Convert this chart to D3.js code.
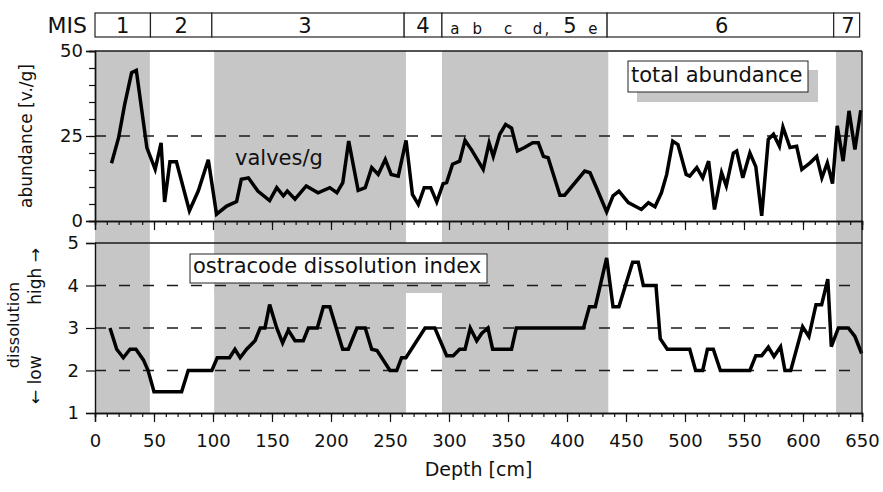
<!DOCTYPE html>
<html>
<head>
<meta charset="utf-8">
<script src="https://cdn.jsdelivr.net/npm/d3@7"></script>
<style>
  body { margin: 0; background: #fff; }
  svg text { font-family: "DejaVu Sans", sans-serif; fill: #111; }
</style>
</head>
<body>
<div id="chart"></div>
<script>
// depth [cm], abundance [valves/g]
var abundance = [
  [14,17],[20,24.5],[25,34],[31,43.6],[35,44.3],[44,21.5],[51,15.2],[56,23],[59,5.6],[63.5,17.4],
  [69,17.4],[80,3],[87.5,8.8],[96,18],[103,2],[111.6,4.4],[120,5.7],[124,12.3],[130,12.7],[138,8.8],
  [148,6],[154,9.8],[159.6,7.4],[163,8.8],[169.5,6.4],[179,10.3],[189,8.3],[199,9.8],[205,8.3],[210,11.3],
  [215,23.5],[223,9],[229,9.8],[234.5,15.7],[240,13.7],[246,18.1],[251,13.7],[257,13.2],[263.6,23.7],[269,7.8],
  [274,4.9],[279,9.8],[284.5,9.8],[289.6,5.6],[295,11],[298,11.3],[303,16.7],[309,17.6],[313.6,23.7],[319,21],
  [329,15.2],[334,23],[337.5,19],[343,25.5],[348,28.4],[353,27.3],[358,20.6],[364,21.6],[371,23],[375.7,23],
  [380,19],[384,18.6],[394,7.6],[398,7.6],[415,14.7],[419.5,14.2],[425,9.8],[433.6,2.7],[439,7.4],[444,8.8],
  [452,5.4],[463,3.4],[469,5.4],[474.6,4.2],[480,8.3],[484.5,13.7],[489.6,23.5],[494,22.5],[501,13.7],[504,13.2],
  [510,15.7],[515,12.7],[520,17.6],[525,3.4],[531,14.2],[535,10.3],[541,20],[543.8,20.6],[549,12.7],[555,20],
  [560,16],[565,1.5],[570.6,24],[575,25.5],[580,22],[583,27.6],[589,21.6],[594.6,22],[599,15.2],[606,17.1],
  [611.6,19],[616,12.7],[620.6,17.1],[625,11],[629,28],[634,17.6],[639,32.4],[644,21],[649,32.6]
]

// depth [cm], ostracode dissolution index
var dissolution = [
  [12.7,3.0],[18.4,2.5],[24,2.3],[29.7,2.5],[34.7,2.5],[41,2.25],[45,2.0],[50,1.5],[73.4,1.5],[79,2.0],
  [99,2.0],[103.6,2.3],[114,2.3],[118.6,2.5],[123,2.3],[128.5,2.5],[135.6,2.7],[140,3.0],[144,3.0],[148,3.55],
  [154,3.0],[159,2.65],[163.8,2.95],[169.5,2.7],[176.5,2.7],[180.8,3.0],[188.4,3.0],[193.5,3.5],[199,3.5],[209.9,2.5],
  [214.7,2.5],[222,3.0],[229,3.0],[234.5,2.5],[239,2.47],[250,2.0],[255.7,2.0],[259.8,2.3],[263.5,2.3],[279.7,3.0],
  [288,3.0],[298,2.35],[303.6,2.35],[309,2.5],[313.6,2.5],[318,3.0],[323.5,2.7],[327.7,2.87],[333,3.0],[337,2.5],
  [353,2.5],[357,3.0],[414,3.0],[419,3.5],[424,3.5],[433.6,4.65],[439,3.5],[444,3.5],[455.6,4.55],[460.4,4.55],
  [464.7,4.0],[475.4,4.0],[479,2.75],[485,2.5],[504,2.5],[509,2.0],[515,2.0],[519,2.5],[524,2.5],[530,2.0],
  [555,2.0],[560,2.35],[565,2.35],[570.6,2.55],[575.4,2.33],[581,2.56],[584.7,2.0],[589.6,2.0],[599.7,3.03],[605,2.8],
  [611,3.55],[615.8,3.55],[621,4.15],[624,2.56],[630,3.0],[638.4,3.0],[644,2.8],[649.7,2.4]
]

// shaded (odd) marine isotope stages, depth ranges
var bands = [[0,46.5],[101,263.5],[294,435],[628,650]]

// MIS boxes
var misEdges = [0, 47, 99, 262, 294, 434, 626, 648]
var misLabels = [
  {t: '1', d: 23.5, big: true}, {t: '2', d: 73, big: true}, {t: '3', d: 178, big: true},
  {t: '4', d: 278, big: true},
  {t: 'a', d: 305}, {t: 'b', d: 324}, {t: 'c', d: 350}, {t: 'd', d: 375}, {t: ',', d: 383},
  {t: '5', d: 402.5, big: true}, {t: 'e', d: 422},
  {t: '6', d: 531, big: true}, {t: '7', d: 638, big: true}
]

var xTicks = d3.range(0, 651, 50)
var abTicks = [0, 25, 50]
var diTicks = [1, 2, 3, 4, 5]

var W = 883, H = 492
var svg = d3.select('#chart').append('svg').attr('width', W).attr('height', H)

var x = d3.scaleLinear().domain([0, 650]).range([95, 862])
var yA = d3.scaleLinear().domain([0, 50]).range([221, 51])
var yD = d3.scaleLinear().domain([1, 5]).range([413, 243])

// grey bands behind both panels
svg.selectAll('rect.band').data(bands).enter().append('rect')
  .attr('x', d => x(d[0])).attr('width', d => x(d[1]) - x(d[0]))
  .attr('y', yA(50)).attr('height', yD(1) - yA(50))
  .style('fill', '#c6c6c6')

// shadows of the two label boxes
svg.append('rect').attr('x', 637).attr('y', 70).attr('width', 181).attr('height', 32).style('fill', '#c6c6c6')
svg.append('rect').attr('x', x(101)).attr('y', yD(5)).attr('width', 496 - x(101)).attr('height', 50).style('fill', '#c6c6c6')

// dashed reference lines
function hline(y, dashed){
  svg.append('line').attr('x1', x(0)).attr('x2', x(650)).attr('y1', y).attr('y2', y)
    .style('stroke', '#1a1a1a').style('stroke-width', dashed ? 1.6 : 1.4)
    .style('stroke-dasharray', dashed ? '11,13' : null)
}
hline(yA(25), true)
;[2, 3, 4].forEach(v => hline(yD(v), true))

// label boxes (drawn before curve)
function labelBox(bx, by, bw, bh, txt, tx, ty){
  svg.append('rect').attr('x', bx).attr('y', by).attr('width', bw).attr('height', bh)
    .style('fill', '#fff').style('stroke', '#222').style('stroke-width', 1)
  svg.append('text').attr('x', tx).attr('y', ty).style('font-size', '21px').text(txt)
}
labelBox(628, 61, 180, 31, 'total abundance', 631, 82)
labelBox(190, 254, 297, 29, 'ostracode dissolution index', 193, 273)

// curves
var lineA = d3.line().x(d => x(d[0])).y(d => yA(d[1]))
var lineD = d3.line().x(d => x(d[0])).y(d => yD(d[1]))
svg.append('path').attr('d', lineA(abundance))
  .style('fill', 'none').style('stroke', '#000').style('stroke-width', 3.5).style('stroke-linejoin', 'miter')
svg.append('path').attr('d', lineD(dissolution))
  .style('fill', 'none').style('stroke', '#000').style('stroke-width', 3.5).style('stroke-linejoin', 'miter')

svg.append('text').attr('x', 235).attr('y', 165).style('font-size', '21px').text('valves/g')

// frame
hline(yA(50), false)
hline(yD(5), false)
svg.append('line').attr('x1', x(650)).attr('x2', x(650)).attr('y1', yA(50)).attr('y2', yD(1))
  .style('stroke', '#222').style('stroke-width', 1.4)

function styleAxis(s){
  s.select('.domain').style('stroke', '#111').style('stroke-width', 1.4)
  s.selectAll('.tick line').style('stroke', '#111').style('stroke-width', 1.2)
  s.selectAll('text').style('font-size', '18px').style('font-family', '"DejaVu Sans", sans-serif').style('fill', '#111')
}

// x axes (minor 10 cm, major 50 cm)
function xAxis(y, labels){
  var g = svg.append('g').attr('transform', 'translate(0,' + y + ')')
  g.call(d3.axisBottom(x).tickValues(d3.range(0, 651, 10)).tickSize(4).tickFormat(''))
  var gm = svg.append('g').attr('transform', 'translate(0,' + y + ')')
  gm.call(d3.axisBottom(x).tickValues(xTicks).tickSize(9).tickPadding(12)
    .tickFormat(labels ? d3.format('d') : ''))
  styleAxis(g); styleAxis(gm)
}
xAxis(yA(0), false)
xAxis(yD(1), true)

// y axes
var gA = svg.append('g').attr('transform', 'translate(' + x(0) + ',0)')
gA.call(d3.axisLeft(yA).tickValues(d3.range(0, 51, 5)).tickSize(6).tickFormat(''))
var gA2 = svg.append('g').attr('transform', 'translate(' + x(0) + ',0)')
gA2.call(d3.axisLeft(yA).tickValues(abTicks).tickSize(9).tickPadding(3).tickFormat(d3.format('d')))
var gD = svg.append('g').attr('transform', 'translate(' + x(0) + ',0)')
gD.call(d3.axisLeft(yD).tickValues(diTicks).tickSize(9).tickPadding(7).tickFormat(d3.format('d')))
;[gA, gA2, gD].forEach(styleAxis)

// axis titles
svg.append('text').attr('transform', 'translate(32,' + yA(25) + ') rotate(-90)')
  .attr('text-anchor', 'middle').style('font-size', '17px').text('abundance [v./g]')
svg.append('text').attr('transform', 'translate(19,325) rotate(-90)')
  .attr('text-anchor', 'middle').style('font-size', '16px').text('dissolution')
svg.append('text').attr('transform', 'translate(41,404) rotate(-90)')
  .attr('text-anchor', 'start').style('font-size', '17px').text('\u2190 low')
svg.append('text').attr('transform', 'translate(41,248) rotate(-90)')
  .attr('text-anchor', 'end').style('font-size', '17px').text('high \u2192')
svg.append('text').attr('x', x(325)).attr('y', 476)
  .attr('text-anchor', 'middle').style('font-size', '19px').text('Depth [cm]')

// MIS bar
svg.append('text').attr('x', 87).attr('y', 33).attr('text-anchor', 'end')
  .style('font-size', '22px').text('MIS')
svg.selectAll('rect.mis').data(d3.pairs(misEdges)).enter().append('rect')
  .attr('x', d => x(d[0])).attr('width', d => x(d[1]) - x(d[0]))
  .attr('y', 13).attr('height', 24)
  .style('fill', '#fff').style('stroke', '#222').style('stroke-width', 1.2)
svg.selectAll('text.mis').data(misLabels).enter().append('text')
  .attr('x', d => x(d.d)).attr('y', d => d.big ? 33 : 34)
  .attr('text-anchor', 'middle')
  .style('font-size', d => d.big ? '21px' : '15px')
  .text(d => d.t)
</script>
</body>
</html>
